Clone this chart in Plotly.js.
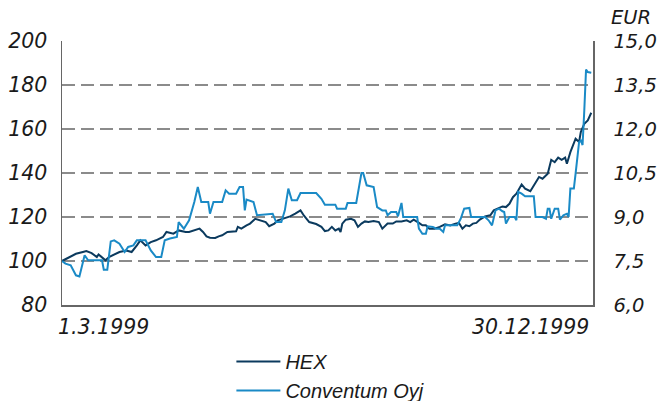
<!DOCTYPE html>
<html>
<head>
<meta charset="utf-8">
<script src="https://cdn.plot.ly/plotly-3.0.1.min.js"></script>
<style>html,body{margin:0;padding:0;background:#fff;}#chart{width:659px;height:401px;}</style>
</head>
<body>
<div id="chart"></div>
<script>
// Days since 1.3.1999 (x) and index values (1.3.1999 = 100)
var hexDays = [0,8,12,14,17,20,21,23,25,27,33,37,40,43,45,48,51,54,58,60,64,67,71,73,79,81,83,85,88,90,92,95,100,101,103,106,108,111,114,117,119,122,124,127,131,134,137,139,142,146,149,151,153,155,157,159,160,161,163,166,168,170,172,174,176,179,182,184,187,190,192,195,198,200,202,205,207,209,211,214,217,220,223,226,228,230,231,232,234,236,238,240,243,246,248,251,253,255,257,259,261,264,266,269,271,274,276,279,281,283,285,287,289,290,292,293,295,297,298,300,302,304];
var hexValues = [100,103.3,104.1,104.5,103.6,101.8,103,101.8,100.3,101.8,104.1,104.8,104.1,107.1,109.4,107.1,108.6,109.4,110.9,113.2,112.4,113.9,113.2,113.2,114.7,113.2,111.2,110.6,110.5,111.2,111.7,113.2,113.5,115.5,114.7,116.2,117,119.2,118.5,117.7,115.8,117,118.5,119.2,120.3,121.5,123,120.6,117.7,116.8,115.5,113.6,113.9,115.5,113.9,114.7,113.2,117,118.8,119.2,118.5,115.5,117,118,117.7,118.2,117.7,114.7,117,117,118,118,118.5,117.7,118.8,117.3,116.2,116.2,114.7,114.7,115.5,116.7,116.2,117,117.3,114.7,115.5,116.2,115.8,117,117.3,118.8,120.3,120.8,123,124.1,124.8,124.5,126,129,130.6,134.8,132.9,131.7,134.5,138.2,137.4,139.7,146,144.9,147,146,147,144.2,149.5,151.5,155.6,154.1,158.6,162.4,163.9,167.4];

var convDays = [0,2,5,8,10,12,13,15,23,24,26,28,30,33,36,38,41,43,48,51,54,57,59,62,66,67,70,73,76,78,80,84,85,87,92,94,96,100,102,104,105,106,110,112,121,123,126,128,130,132,135,137,146,149,151,157,158,163,164,169,170,172,173,175,179,181,184,186,187,189,192,193,195,196,204,205,207,209,210,213,215,217,219,220,227,229,231,234,235,243,245,247,249,251,253,254,255,257,260,261,262,264,266,271,272,276,278,279,280,281,283,285,286,288,290,291,292,294,295,296,297,298,299,300,301,302,304];
var convValues = [100,98.8,98,93.5,93,98.8,102.6,100.3,100.3,96,96,108.9,109.4,107.9,104.1,106.4,107.1,109.4,109.4,104.8,101.8,101.8,109.4,110.2,110.9,117.7,114.7,118.5,126.8,133.6,126.8,126.8,121.5,126.8,126.8,132.1,130.6,130.6,133.6,133.6,123,127.9,126.8,120.8,121.5,117.7,117.7,123,132.9,127.6,127.6,130.9,130.9,128.3,125.6,125.6,123.8,123.8,126.4,126.4,130.6,140,140,134.4,133.6,124.5,123,123,120.8,122.3,122.3,120.3,126.4,120,120,114.7,112.4,112.4,115.8,115.5,114.7,114.7,113.2,116.2,116.2,119.2,123.8,124.1,120,120,118.5,116.2,123,123.8,122.6,122.3,117,120,120,118.5,131.4,130.6,129.4,129.4,120,120,119.2,123.8,123.8,119.2,123.8,123.8,118.8,120.8,121.5,120,132.9,132.9,139.7,148,154,154.8,152.7,168.5,187,185.9,185.6];

var seriesNames = ["HEX", "Conventum Oyj"];
var leftTicks = [80,100,120,140,160,180,200];
var rightTicks = [6.0,7.5,9.0,10.5,12.0,13.5,15.0];
var gridValues = [100,120,140,160,180];
var dateLabels = ["1.3.1999", "30.12.1999"];
var unitLabel = "EUR";

var tickFont = {family: "DejaVu Sans", size: 20.5, color: "#1a1a1a", style: "italic"};
var rightFont = {family: "DejaVu Sans", size: 19.5, color: "#1a1a1a", style: "italic"};

var traces = [
  {x: hexDays, y: hexValues, name: seriesNames[0], type: "scatter", mode: "lines",
   line: {color: "#0b3a5e", width: 2}},
  {x: convDays, y: convValues, name: seriesNames[1], type: "scatter", mode: "lines",
   line: {color: "#1a8ac6", width: 2}}
];

var shapes = gridValues.map(function(v){
  return {type: "line", xref: "paper", x0: 0, x1: 1, yref: "y", y0: v, y1: v,
          layer: "below", line: {color: "#666", width: 1.6, dash: "13px,6px"}};
});

var layout = {
  width: 659, height: 401,
  margin: {l: 62, r: 66, t: 41, b: 96, autoexpand: false},
  paper_bgcolor: "#fff", plot_bgcolor: "#fff",
  separators: ", ",
  showlegend: true,
  legend: {x: 0.319, xanchor: "left", y: -0.14, yanchor: "top",
           font: {family: "Liberation Sans", size: 20, color: "#1a1a1a", style: "italic"},
           itemwidth: 44, bgcolor: "rgba(0,0,0,0)", tracegroupgap: 0},
  xaxis: {range: [0, 305], showgrid: false, zeroline: false, showline: true,
          linecolor: "#666", linewidth: 1.5, showticklabels: false, ticks: ""},
  yaxis: {range: [80, 200], tickvals: leftTicks, showgrid: false, zeroline: false,
          showline: true, linecolor: "#666", linewidth: 1.5,
          ticks: "outside", ticklen: 9, tickcolor: "rgba(0,0,0,0)", tickfont: tickFont},
  yaxis2: {range: [6, 15], tickvals: rightTicks, tickformat: ".1f", overlaying: "y", side: "right",
           showgrid: false, zeroline: false, showline: true, linecolor: "#666", linewidth: 1.5,
           ticks: "outside", ticklen: 15, tickcolor: "rgba(0,0,0,0)", tickfont: rightFont},
  shapes: shapes,
  annotations: [
    {xref: "x", yref: "paper", x: hexDays[0], y: 0, xanchor: "left", yanchor: "top",
     text: dateLabels[0], showarrow: false, font: tickFont, xshift: -6, yshift: -8},
    {xref: "x", yref: "paper", x: hexDays[hexDays.length-1], y: 0, xanchor: "right", yanchor: "top",
     text: dateLabels[1], showarrow: false, font: tickFont, xshift: 0, yshift: -8},
    {xref: "paper", yref: "paper", x: 1, y: 1, xanchor: "left", yanchor: "bottom",
     text: unitLabel, showarrow: false, font: rightFont, xshift: 16, yshift: 10}
  ]
};

// invisible trace to keep the right axis active
traces.push({x: [hexDays[0]], y: [rightTicks[0]], yaxis: "y2", type: "scatter", mode: "lines",
             showlegend: false, hoverinfo: "skip", line: {color: "rgba(0,0,0,0)"}});

Plotly.newPlot("chart", traces, layout, {displayModeBar: false, staticPlot: true});
</script>
</body>
</html>
